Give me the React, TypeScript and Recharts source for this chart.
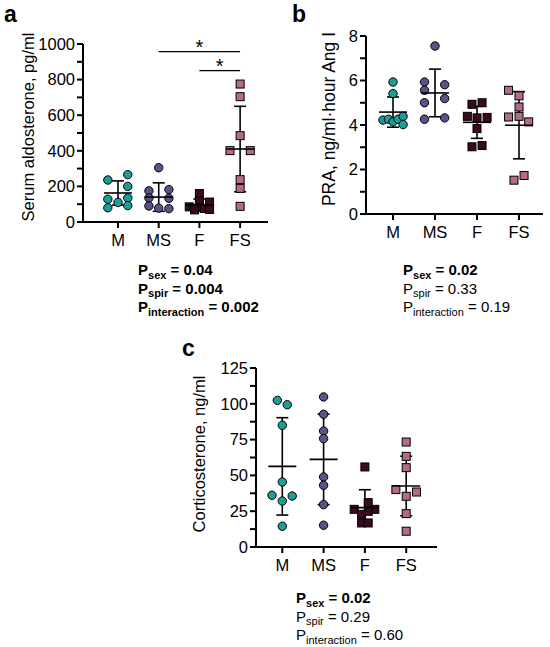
import React from 'react';
import { ComposedChart, Scatter, XAxis, YAxis, ErrorBar, ReferenceLine } from 'recharts';

const GROUPS = ['M', 'MS', 'F', 'FS'];
const COLORS = ['#1d9c98', '#5d5188', '#3c0a20', '#b46b8b'];
const SQUARE = [false, false, true, true];

// a: serum aldosterone, pg/ml
const ALDO_VALUES = [
    [266, 236, 200, 135, 128, 110, 92, 80],
    [305, 182, 175, 135, 133, 90, 78, 75],
    [160, 118, 112, 85, 82, 76, 70, 68],
    [775, 704, 485, 401, 401, 238, 189, 88],
];
const ALDO_JITTER = [
    [0.24, -0.25, 0.24, 0.24, -0.25, 0, 0.24, -0.25],
    [0, 0.25, -0.24, -0.24, 0.25, -0.24, 0, 0.25],
    [0, 0, 0.25, -0.25, 0, 0.12, 0.25, -0.12],
    [0, 0, 0, -0.25, 0.25, 0, 0, 0],
];
const ALDO_MEAN = [163, 140, 97, 410];
const ALDO_SD = [68, 80, 32, 240];
const ALDO_TICKS = [0, 100, 200, 300, 400, 500, 600, 700, 800, 900, 1000];

// b: PRA, ng/ml·hour Ang I
const PRA_VALUES = [
    [5.93, 5.41, 4.22, 4.26, 4.14, 4.26, 4.39, 4.02],
    [7.55, 5.93, 5.81, 5.56, 5.19, 5.0, 4.26, 4.32],
    [4.93, 5.0, 4.39, 4.32, 4.34, 3.84, 3.02, 3.08],
    [5.56, 5.31, 4.81, 4.36, 4.39, 4.14, 1.52, 1.73],
];
const PRA_JITTER = [
    [0, 0, -0.24, -0.11, 0, 0.12, 0.24, 0.24],
    [0, -0.25, 0.23, -0.25, 0.23, -0.25, -0.25, 0.23],
    [-0.12, 0.12, -0.23, 0, 0.24, 0, -0.12, 0.12],
    [-0.25, 0, 0, -0.25, 0, 0.23, -0.12, 0.12],
];
const PRA_MEAN = [4.58, 5.44, 4.12, 3.99];
const PRA_SD = [0.68, 1.07, 0.72, 1.51];
const PRA_TICKS = [0, 1, 2, 3, 4, 5, 6, 7, 8];

// c: corticosterone, ng/ml
const CORT_VALUES = [
    [102.4, 99.4, 85, 45.4, 36.1, 35.6, 32.1, 14.5],
    [104.8, 92.7, 81, 75.7, 48.9, 43.1, 29.6, 15.2],
    [55.9, 31, 26.3, 26.3, 24.9, 22.8, 16.8, 16.8],
    [73.3, 63.3, 55.4, 40.1, 38.4, 35.4, 23.3, 11],
];
const CORT_JITTER = [
    [-0.12, 0.12, 0, 0, -0.25, 0.24, 0, 0],
    [0, 0, 0, 0, 0, 0, 0, 0],
    [0, 0.08, -0.26, 0.24, 0.08, -0.08, -0.08, 0.08],
    [0, 0, 0, -0.25, 0.25, 0, 0, 0],
];
const CORT_MEAN = [56.3, 61.2, 27.5, 42.6];
const CORT_SD = [34, 31.6, 12.5, 20.8];
const CORT_TICKS = [0, 12.5, 25, 37.5, 50, 62.5, 75, 87.5, 100, 112.5, 125];

const P_NAMES = ['sex', 'spir', 'interaction'];
const P_A = ['0.04', '0.004', '0.002'];
const P_B = ['0.02', '0.33', '0.19'];
const P_C = ['0.02', '0.29', '0.60'];

const FONT = '"Liberation Sans", Arial, sans-serif';
const axisStyle = { stroke: '#000', strokeWidth: 2 };
const tickStyle = { fill: '#000', fontSize: 16.5, fontFamily: FONT };

const dotShape = (g: number) => (p: any) =>
    SQUARE[g] ? (
        <rect x={p.cx - 4} y={p.cy - 4} width={8} height={8} fill={COLORS[g]} stroke="#000" strokeWidth={1} />
    ) : (
        <circle cx={p.cx} cy={p.cy} r={4.2} fill={COLORS[g]} stroke="#000" strokeWidth={1} />
    );

const meanShape = (p: any) => (
    <line x1={p.cx - 14} x2={p.cx + 14} y1={p.cy} y2={p.cy} stroke="#000" strokeWidth={1.6} />
);

type PanelProps = {
    width: number;
    height: number;
    margin: { top: number; right: number; bottom: number; left: number };
    yWidth: number;
    xDomain: [number, number];
    yTicks: number[];
    labelStep: number;
    values: number[][];
    jitter: number[][];
    means: number[];
    sds: number[];
    children?: React.ReactNode;
};

const Panel = ({ width, height, margin, yWidth, xDomain, yTicks, labelStep, values, jitter, means, sds, children }: PanelProps) => {
    const summary = means.map((m, g) => ({ x: g + 1, y: m, sd: sds[g] }));
    return (
        <ComposedChart width={width} height={height} margin={margin}>
            <XAxis
                type="number"
                dataKey="x"
                domain={xDomain}
                ticks={[1, 2, 3, 4]}
                interval={0}
                tickFormatter={(v) => GROUPS[v - 1]}
                axisLine={axisStyle}
                tickLine={axisStyle}
                tick={tickStyle}
                tickSize={6}
                tickMargin={6}
                height={30}
                allowDataOverflow
            />
            <YAxis
                type="number"
                dataKey="y"
                domain={[yTicks[0], yTicks[yTicks.length - 1]]}
                ticks={yTicks}
                interval={0}
                tickFormatter={(v) => (v % labelStep === 0 ? String(v) : '')}
                axisLine={axisStyle}
                tickLine={axisStyle}
                tick={tickStyle}
                tickSize={6}
                tickMargin={2}
                width={yWidth}
            />
            {values.map((vals, g) => (
                <Scatter
                    key={GROUPS[g]}
                    data={vals.map((v, i) => ({ x: g + 1 + jitter[g][i], y: v }))}
                    shape={dotShape(g)}
                    isAnimationActive={false}
                />
            ))}
            <Scatter data={summary} shape={meanShape} isAnimationActive={false}>
                <ErrorBar dataKey="sd" direction="y" width={6} stroke="#000" strokeWidth={1.6} isAnimationActive={false} />
            </Scatter>
            {children}
        </ComposedChart>
    );
};

const PLines = ({ x, y, values, boldCount }: { x: number; y: number; values: string[]; boldCount: number }) => (
    <g>
        {values.map((v, i) => (
            <text key={i} x={x} y={y + i * 18.5} fontSize={15} fontWeight={i < boldCount ? 700 : 400} fontFamily={FONT} fill="#000">
                P
                <tspan fontSize={11} dy={3.5}>{P_NAMES[i]}</tspan>
                <tspan dy={-3.5}> = {v}</tspan>
            </text>
        ))}
    </g>
);

const starLabel = { value: '*', position: 'top' as const, offset: -2, fill: '#000', fontSize: 20, fontFamily: FONT };

export default function App() {
    return (
        <div style={{ position: 'absolute', left: 0, top: 0, width: 550, height: 647, background: '#fff', fontFamily: FONT }}>
            <div style={{ position: 'absolute', left: 0, top: 0 }}>
                <Panel
                    width={280}
                    height={252}
                    margin={{ top: 44, right: 12, bottom: 0, left: 0 }}
                    yWidth={83}
                    xDomain={[0.14, 4.685]}
                    yTicks={ALDO_TICKS}
                    labelStep={200}
                    values={ALDO_VALUES}
                    jitter={ALDO_JITTER}
                    means={ALDO_MEAN}
                    sds={ALDO_SD}
                >
                    <ReferenceLine segment={[{ x: 2, y: 957 }, { x: 4, y: 957 }]} stroke="#000" strokeWidth={1.3} label={starLabel} />
                    <ReferenceLine segment={[{ x: 3, y: 850 }, { x: 4, y: 850 }]} stroke="#000" strokeWidth={1.3} label={starLabel} />
                </Panel>
            </div>
            <div style={{ position: 'absolute', left: 280, top: 0 }}>
                <Panel
                    width={270}
                    height={244}
                    margin={{ top: 36, right: 7, bottom: 0, left: 0 }}
                    yWidth={86}
                    xDomain={[0.357, 4.571]}
                    yTicks={PRA_TICKS}
                    labelStep={2}
                    values={PRA_VALUES}
                    jitter={PRA_JITTER}
                    means={PRA_MEAN}
                    sds={PRA_SD}
                />
            </div>
            <div style={{ position: 'absolute', left: 130, top: 330 }}>
                <Panel
                    width={317}
                    height={247}
                    margin={{ top: 38, right: 10, bottom: 0, left: 0 }}
                    yWidth={126}
                    xDomain={[0.363, 4.746]}
                    yTicks={CORT_TICKS}
                    labelStep={25}
                    values={CORT_VALUES}
                    jitter={CORT_JITTER}
                    means={CORT_MEAN}
                    sds={CORT_SD}
                />
            </div>
            <svg width={550} height={647} style={{ position: 'absolute', left: 0, top: 0, pointerEvents: 'none' }}>
                <text x={4} y={22} fontSize={23} fontWeight={700} fontFamily={FONT}>a</text>
                <text x={292} y={22} fontSize={23} fontWeight={700} fontFamily={FONT}>b</text>
                <text x={182} y={356} fontSize={23} fontWeight={700} fontFamily={FONT}>c</text>
                <text transform="translate(34,127) rotate(-90)" textAnchor="middle" fontSize={16.5} fontFamily={FONT}>
                    Serum aldosterone, pg/ml
                </text>
                <text transform="translate(335,119) rotate(-90)" textAnchor="middle" fontSize={17.5} fontFamily={FONT}>
                    PRA, ng/ml·hour Ang I
                </text>
                <text transform="translate(205,454) rotate(-90)" textAnchor="middle" fontSize={16.5} fontFamily={FONT}>
                    Corticosterone, ng/ml
                </text>
                <PLines x={138} y={275} values={P_A} boldCount={3} />
                <PLines x={403} y={275} values={P_B} boldCount={1} />
                <PLines x={296} y={603} values={P_C} boldCount={1} />
            </svg>
        </div>
    );
}
